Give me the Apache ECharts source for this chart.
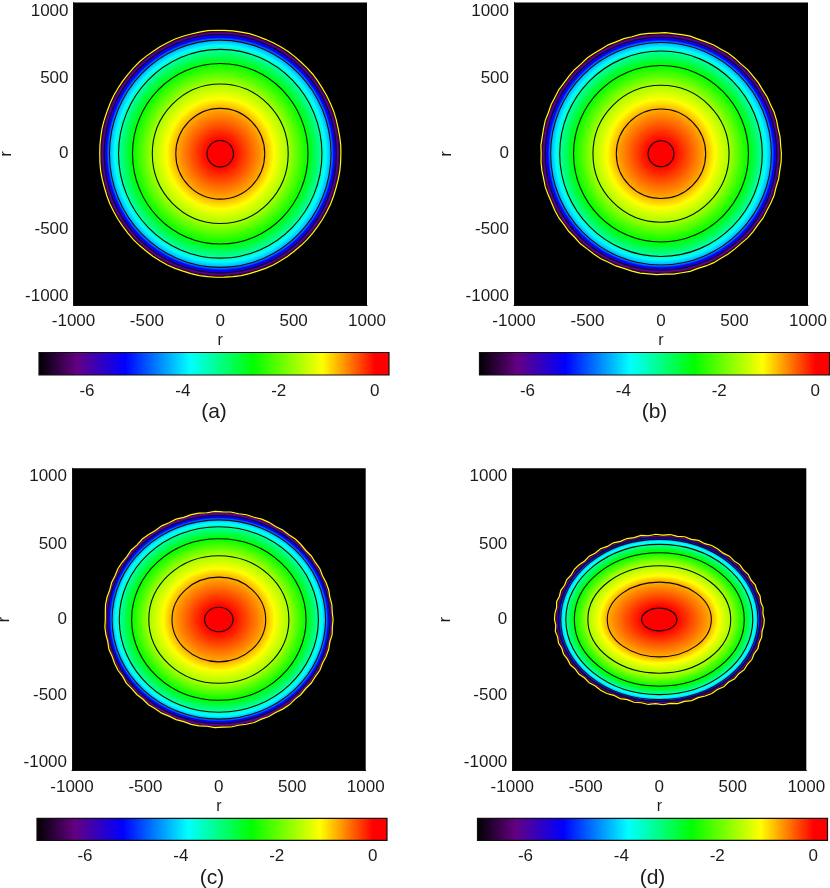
<!DOCTYPE html>
<html><head><meta charset="utf-8">
<style>html,body{margin:0;padding:0;background:#fff}#c{width:830px;height:888px}</style>
<script src="https://cdn.jsdelivr.net/npm/echarts@6/dist/echarts.min.js"></script>
</head><body><div id="c"></div>
<script>
// colour scale: log value -> colour
const scaleValues = [-7, -6.2, -5.2, -3.85, -2.53, -1.1, 0, 0.3];
const scaleColors = [[0,0,0],[100,0,130],[0,0,255],[0,255,255],[0,255,0],[255,255,0],[255,0,0],[255,0,0]];
// value at each ring, and which rings carry a contour line
const ringLevels = [0, -0.75, -1.1, -1.6, -2.53, -3.4, -3.85, -4.3, -5.2, -5.6, -6.2, -7];
const blackContours = [0, 1, 3, 4, 5, 7, 9];
const axisTicks = [-1000, -500, 0, 500, 1000];
const barTicks = [-6, -4, -2, 0];
const captions = ['(a)', '(b)', '(c)', '(d)'];
// ring semi-axes
const rxA = [90,303,366,463,598,693,718,755,774,791,802,822];
const ryA = [88,300,364,461,597,690,715,751,770,788,798,817];
const rxB = [88,304,367,463,595,689,714,751,770,788,799,817];
const ryB = [86,296,358,453,583,679,703,736,754,770,780,799];
const rxC = [97,319,380,477,594,678,703,727,745,758,766,776];
const ryC = [81,280,338,422,534,613,635,659,675,688,697,713];
const rxD = [120,354,404,486,578,636,653,671,680,688,695,710];
const ryD = [75,247,289,355,441,497,511,530,537,542,548,561];
// bumps of the outer contour, per 1/90 turn, in data units
const edgeA = [0,1,0,-1,0,1,0,0,-1,0,1,0,-1,0,1,0,0,-1,0,1,0,0,-1,0,1,0,-1,0,1,0,0,-1,0,1,0,-1,0,0,1,0,-1,0,1,0,0,-1,0,1,0,-1,0,1,0,0,-1,0,1,0,-1,0,0,1,0,-1,0,1,0,0,-1,0,1,0,-1,0,1,0,0,-1,0,1,0,-1,0,0,1,0,-1,0,1,0];
const edgeB = [2,-1,1,-2,1,2,-1,1,-2,1,0,2,-2,1,2,-1,1,-1,-2,2,1,-1,2,-1,1,2,-2,1,-1,2,-1,1,2,-2,1,0,-1,2,-1,1,-2,2,0,-1,2,-2,1,1,-1,2,-1,-2,1,2,-1,1,-2,2,-1,1,2,-1,1,-2,1,2,-1,1,-2,1,0,2,-2,1,2,-1,1,-1,-2,2,1,-1,2,-1,1,2,-2,1,-1,2];
const edgeC = [2,-2,1,-3,2,1,-3,3,-1,2,-3,1,3,-2,1,-3,2,3,-2,1,-3,2,-1,3,-3,1,2,-3,3,-1,2,-3,1,3,-2,2,-3,1,3,-2,1,-3,2,3,-1,-3,2,1,-3,3,-2,1,2,-3,3,-1,1,-3,2,-1,2,-2,1,-3,2,1,-3,3,-1,2,-3,1,3,-2,1,-3,2,3,-2,1,-3,2,-1,3,-3,1,2,-3,3,-1];
const edgeD = [4,-3,3,-4,3,-2,4,-4,3,-3,4,-3,3,-4,2,4,-3,3,-4,3,-3,4,-2,3,-4,4,-3,2,-4,3,-3,4,-3,3,-4,2,4,-3,3,-4,3,-3,4,-4,2,3,-4,4,-3,3,-4,3,-2,4,-3,3,-4,3,-3,4,4,-3,3,-4,3,-2,4,-4,3,-3,4,-3,3,-4,2,4,-3,3,-4,3,-3,4,-2,3,-4,4,-3,2,-4,3];

const panels = [
  {rx:rxA, ry:ryA, edge:edgeA, plot:[73.5,2.5,293.5,302.5], bar:[39,352.5,350,22.5]},
  {rx:rxB, ry:ryB, edge:edgeB, plot:[514,2.5,294,302.5],    bar:[479.5,352.5,350,22.5]},
  {rx:rxC, ry:ryC, edge:edgeC, plot:[72,468.3,293.7,302.4], bar:[37,818.3,350,22]},
  {rx:rxD, ry:ryD, edge:edgeD, plot:[512.3,468.3,294,302.4],bar:[477.5,818.3,350,22]}
];
const font = 'Liberation Sans', ink = '#1c1c1c';

function colorOf(v){
  for(let i=1;i<scaleValues.length;i++){
    if(v<=scaleValues[i]){
      const t=(v-scaleValues[i-1])/(scaleValues[i]-scaleValues[i-1]);
      const a=scaleColors[i-1],b=scaleColors[i];
      return 'rgb('+a.map((x,k)=>Math.round(x+(b[k]-x)*Math.max(t,0))).join(',')+')';
    }
  }
  return 'rgb(255,0,0)';
}
const grids=[],xAxes=[],yAxes=[],series=[];
panels.forEach((p,n)=>{
  const g=grids.length;
  grids.push({left:p.plot[0],top:p.plot[1],width:p.plot[2],height:p.plot[3],show:true,backgroundColor:'#000',borderWidth:0,containLabel:false,outerBoundsMode:'none'});
  grids.push({left:p.bar[0],top:p.bar[1],width:p.bar[2],height:p.bar[3],outerBoundsMode:'none'});
  const base={type:'value',min:axisTicks[0],max:axisTicks[4],interval:500,splitLine:{show:false},
    axisLine:{show:true,onZero:false,lineStyle:{color:'#111',width:1}},axisTick:{show:false},
    nameTextStyle:{fontFamily:font,fontSize:16,color:ink},name:'r',nameLocation:'middle'};
  xAxes.push({...base,gridIndex:g,position:'bottom',nameGap:28,
    axisLabel:{fontFamily:font,fontSize:17,color:ink,margin:8,showMinLabel:true,showMaxLabel:true,formatter:v=>String(v)}});
  yAxes.push({...base,gridIndex:g,position:'left',nameGap:59,
    axisLabel:{fontFamily:font,fontSize:17,color:ink,margin:5,showMinLabel:true,showMaxLabel:true,formatter:v=>String(v),
      verticalAlignMinLabel:'bottom',verticalAlignMaxLabel:'top'}});
  xAxes.push({type:'value',gridIndex:g+1,min:-7,max:0.3,position:'bottom',splitLine:{show:false},
    axisLine:{show:false},axisTick:{show:false},
    axisLabel:{customValues:barTicks,fontFamily:font,fontSize:17,color:ink,margin:8},
    name:captions[n],nameLocation:'middle',nameGap:27,nameTextStyle:{fontFamily:font,fontSize:21,color:ink}});
  yAxes.push({type:'value',gridIndex:g+1,min:0,max:1,show:false});
  const ax=g; // axis indices equal grid indices
  // filled rings, outermost first
  const rows=p.rx.map((r,i)=>[r,p.ry[i],ringLevels[i],i>0?ringLevels[i-1]:ringLevels[i],i>0?p.rx[i-1]:0]).reverse();
  series.push({type:'custom',xAxisIndex:ax,yAxisIndex:ax,silent:true,animation:false,clip:false,z:2,
    encode:{x:0,y:1},data:rows,
    renderItem:(params,api)=>{
      const c=api.coord([0,0]),s=api.size([api.value(0),api.value(1)]);
      const rx=api.value(0);
      return {type:'circle',x:c[0],y:c[1],scaleX:s[0],scaleY:s[1],shape:{cx:0,cy:0,r:1},
        style:{fill:new echarts.graphic.RadialGradient(0.5,0.5,0.5,[
          {offset:api.value(4)/rx,color:colorOf(api.value(3))},
          {offset:1,color:colorOf(api.value(2))}])}};
    }});
  // black contour lines
  series.push({type:'custom',xAxisIndex:ax,yAxisIndex:ax,silent:true,animation:false,clip:false,z:3,
    encode:{x:0,y:1},data:blackContours.map(i=>[p.rx[i],p.ry[i]]),
    renderItem:(params,api)=>{
      const c=api.coord([0,0]),s=api.size([api.value(0),api.value(1)]);
      return {type:'ellipse',shape:{cx:c[0],cy:c[1],rx:s[0],ry:s[1]},
        style:{fill:null,stroke:'#0a0a0a',lineWidth:1.1}};
    }});
  // yellow outer contour
  const last=p.rx.length-1;
  series.push({type:'custom',xAxisIndex:ax,yAxisIndex:ax,silent:true,animation:false,clip:false,z:4,
    encode:{x:0,y:1},data:[[p.rx[last],p.ry[last]]],
    renderItem:(params,api)=>{
      const rx=api.value(0),ry=api.value(1);
      const pts=p.edge.map((d,i)=>{
        const a=i/p.edge.length*2*Math.PI;
        return api.coord([(rx+d)*Math.cos(a),(ry+d)*Math.sin(a)]);
      });
      return {type:'polygon',shape:{points:pts},style:{fill:null,stroke:'#ffff00',lineWidth:1.2}};
    }});
  // colour bar
  const span=scaleValues[scaleValues.length-1]-scaleValues[0];
  series.push({type:'custom',xAxisIndex:ax+1,yAxisIndex:ax+1,silent:true,animation:false,clip:false,
    encode:{x:0,y:1},data:[[-7,1]],
    renderItem:(params,api)=>{
      const a=api.coord([-7,1]),b=api.coord([0.3,0]);
      return {type:'rect',shape:{x:a[0],y:a[1],width:b[0]-a[0],height:b[1]-a[1]},
        style:{stroke:'#111',lineWidth:1.2,fill:new echarts.graphic.LinearGradient(0,0,1,0,
          scaleValues.map((v,i)=>({offset:(v-scaleValues[0])/span,color:colorOf(v)})))}};
    }});
});
const chart=echarts.init(document.getElementById('c'),null,{renderer:'canvas'});
chart.setOption({animation:false,backgroundColor:'#fff',grid:grids,xAxis:xAxes,yAxis:yAxes,series:series});
</script></body></html>
